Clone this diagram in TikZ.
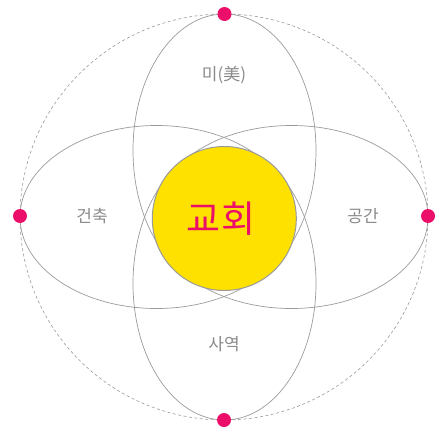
\documentclass[tikz,border=0pt]{standalone}
\usepackage{fontspec}
\newfontfamily\kr{Noto Sans CJK KR}
\definecolor{lgray}{HTML}{9A9A9A}
\definecolor{tgray}{HTML}{8A8A8A}
\definecolor{cyel}{HTML}{FFE100}
\definecolor{cpink}{HTML}{EB0F6A}
\tikzset{
  orbit/.style={draw=lgray, line width=0.7pt},
  dot/.style={circle, fill=cpink, minimum size=14pt, inner sep=0pt},
  lbl/.style={text=tgray, font=\kr\fontsize{17}{20}\selectfont},
}
\begin{document}
\begin{tikzpicture}[x=1pt,y=-1pt]
\useasboundingbox (0,0) rectangle (441,428);
\draw[lgray, line width=0.6pt, dash pattern=on 3pt off 2.5pt] (224,217) ellipse [x radius=204, y radius=203];
\draw[orbit] (156.5,217) ellipse [x radius=136.5, y radius=91.5];
\draw[orbit] (291.5,217) ellipse [x radius=136.5, y radius=91.5];
\draw[orbit] (224.5,150.5) ellipse [x radius=91.5, y radius=136.5];
\draw[orbit] (224.5,283.5) ellipse [x radius=91.5, y radius=136.5];
\node[circle, fill=cyel, draw=lgray, line width=1pt, minimum size=144pt, inner sep=0pt] (church) at (224.3,218.5) {};
\node[text=cpink, font=\kr\fontsize{37}{40}\selectfont] (churchtxt) at (221,219) {교회};
\node[lbl] (beauty) at (224,75) {미(美)};
\node[lbl] (arch) at (92,216) {건축};
\node[lbl] (space) at (363,216) {공간};
\node[lbl] (ministry) at (224,344) {사역};
\node[dot] (dtop) at (224.5,14) {};
\node[dot] (dleft) at (20,216) {};
\node[dot] (dright) at (428,216) {};
\node[dot] (dbottom) at (224,420) {};
\end{tikzpicture}
\end{document}
